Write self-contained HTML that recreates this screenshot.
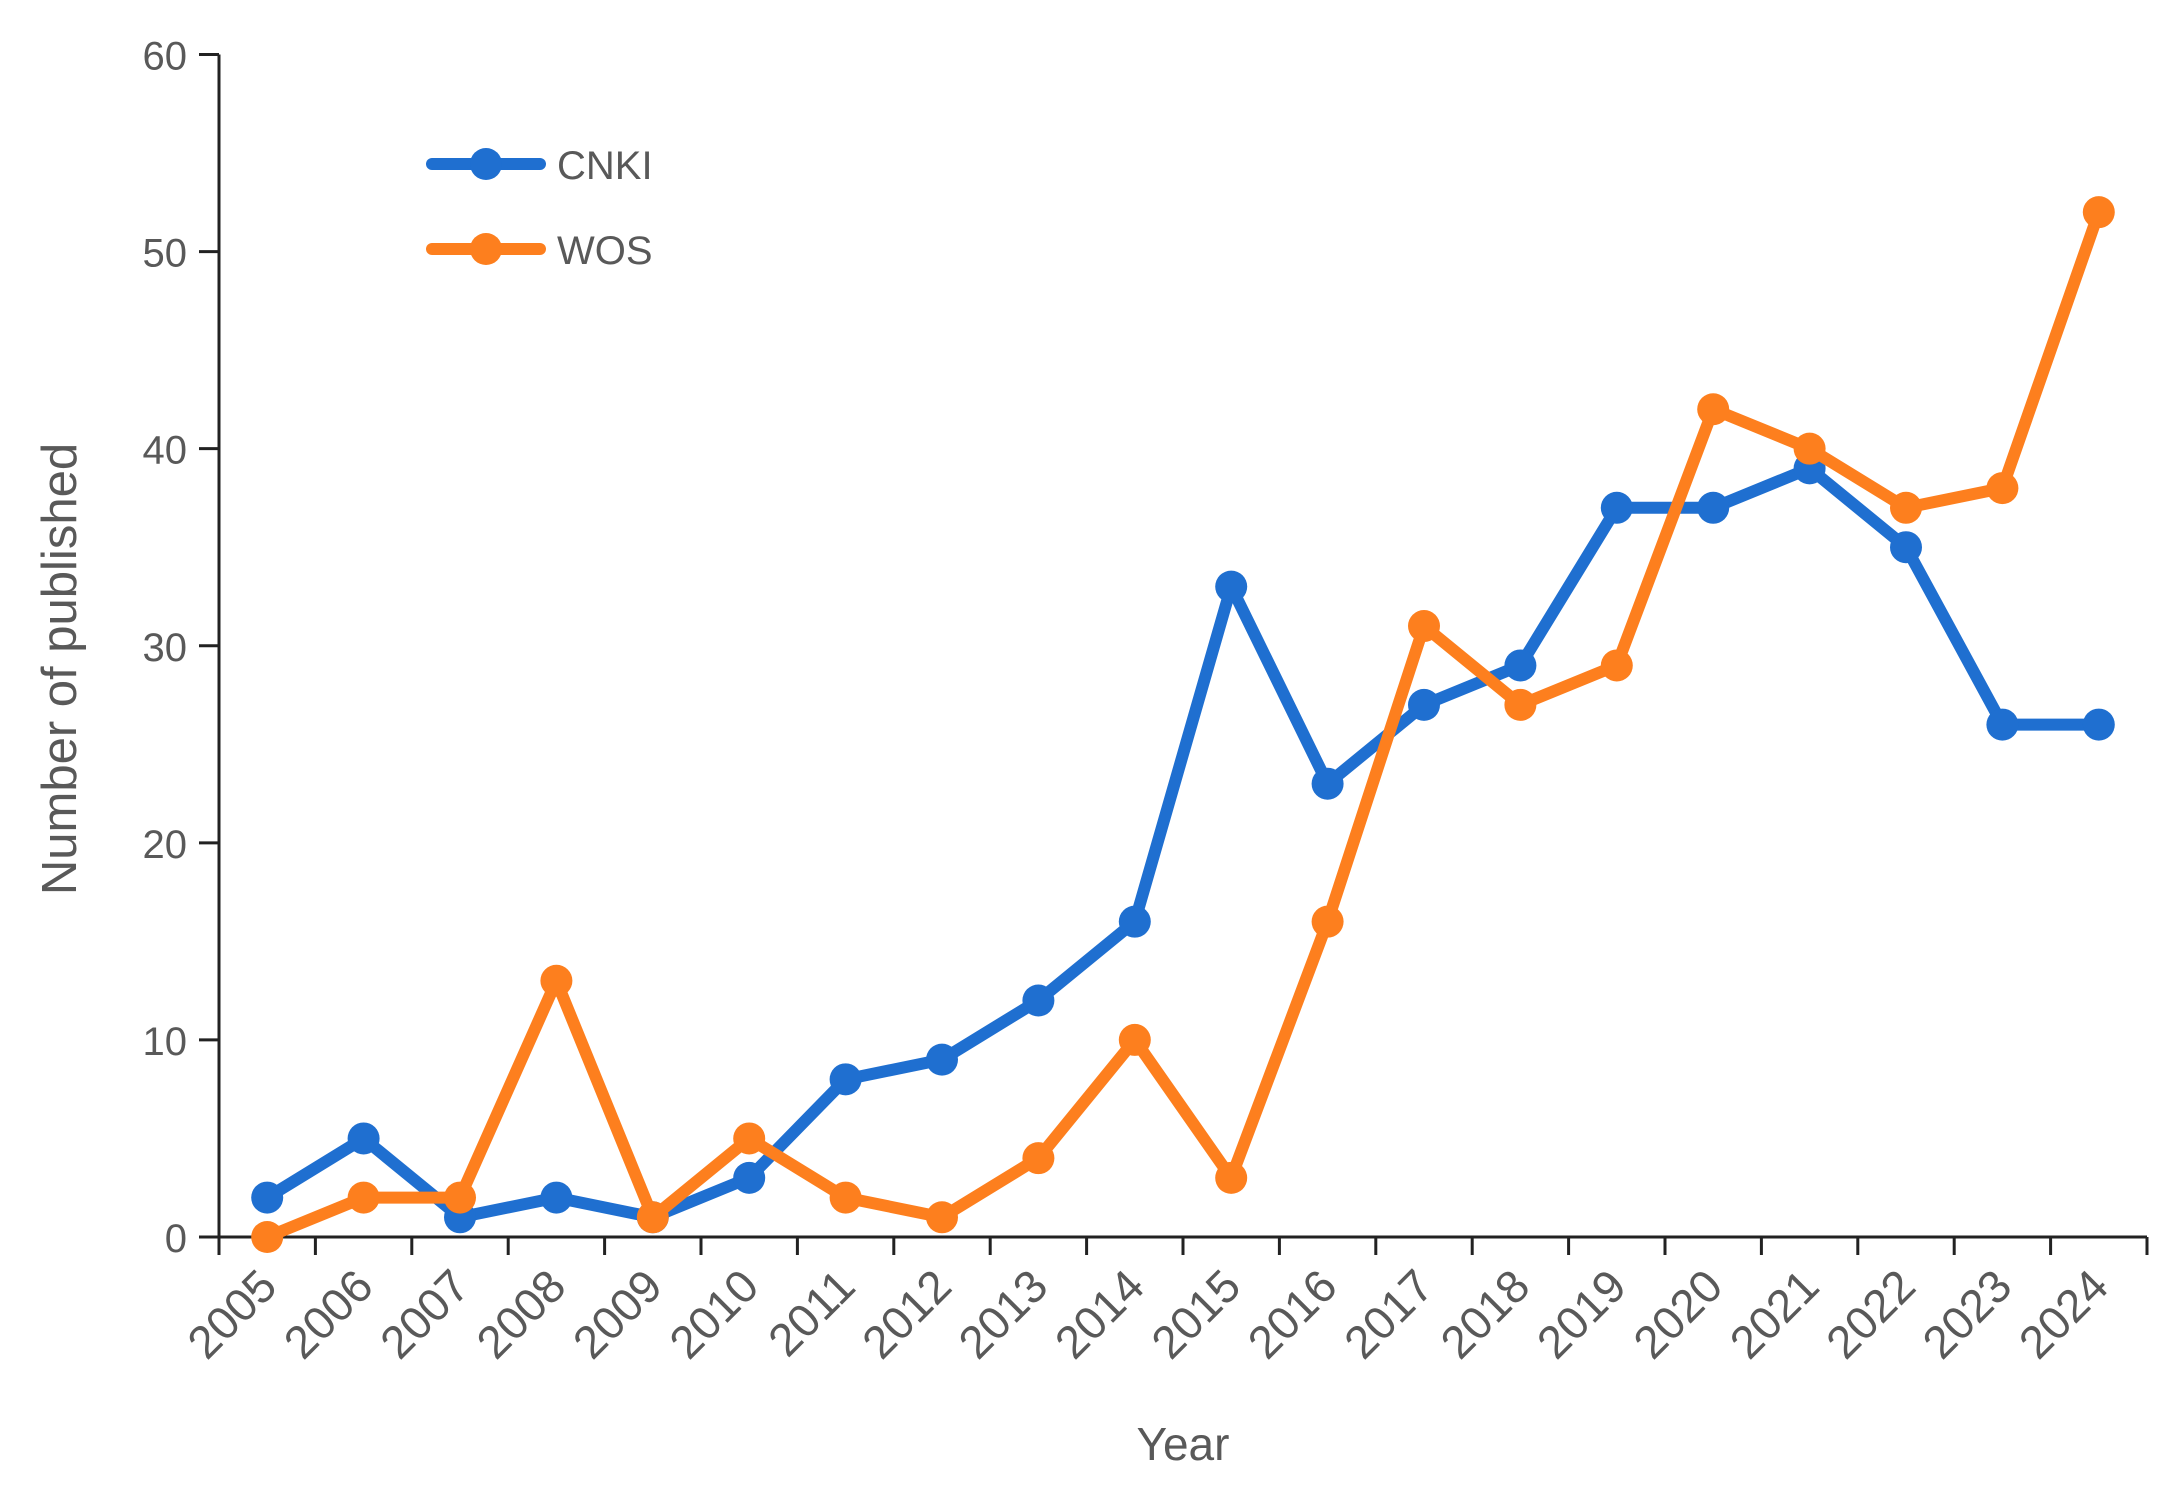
<!DOCTYPE html>
<html><head><meta charset="utf-8"><style>
html,body{margin:0;padding:0;background:#fff;}
svg{display:block;font-family:"Liberation Sans",sans-serif;}
</style></head><body>
<svg id="chart" width="2182" height="1495" viewBox="0 0 2182 1495" xmlns="http://www.w3.org/2000/svg">
<g id="axes"></g>
<g id="series"></g>
<text x="1183" y="1460" font-size="46" fill="#595959" text-anchor="middle">Year</text>
<text transform="translate(76,669) rotate(-90)" font-size="49" fill="#595959" text-anchor="middle">Number of published</text>
<g>
 <g>
  <line x1="432" y1="164" x2="540" y2="164" stroke="#1f6fd0" stroke-width="12" stroke-linecap="round"/>
  <circle cx="486" cy="164" r="16" fill="#1f6fd0"/>
  <text x="557" y="179" font-size="40" fill="#595959">CNKI</text>
 </g>
 <g>
  <line x1="432" y1="249" x2="540" y2="249" stroke="#fd7f1e" stroke-width="12" stroke-linecap="round"/>
  <circle cx="486" cy="249" r="16" fill="#fd7f1e"/>
  <text x="557" y="264" font-size="40" fill="#595959">WOS</text>
 </g>
</g>
</svg>
<script>
const years = ["2005","2006","2007","2008","2009","2010","2011","2012","2013","2014","2015","2016","2017","2018","2019","2020","2021","2022","2023","2024"];
const cnki = [2,5,1,2,1,3,8,9,12,16,33,23,27,29,37,37,39,35,26,26];
const wos = [0,2,2,13,1,5,2,1,4,10,3,16,31,27,29,42,40,37,38,52];
const yTicks = [0,10,20,30,40,50,60];

const NS = "http://www.w3.org/2000/svg";
const X0 = 219, X1 = 2147, Y0 = 1237, Y60 = 54.5;
const bw = (X1 - X0) / years.length;
function xPos(i){ return X0 + bw * (i + 0.5); }
function yPos(v){ return Y0 - (Y0 - Y60) * v / 60; }
function mk(tag, attrs, parent){ const e = document.createElementNS(NS, tag); for (const k in attrs) e.setAttribute(k, attrs[k]); parent.appendChild(e); return e; }

const axes = document.getElementById('axes');
const yAxis = mk('line', {x1:X0, y1:yPos(60), x2:X0, y2:Y0, stroke:'#222', 'stroke-width':3}, axes);


const xAxis = mk('line', {x1:X0 - 20, y1:Y0, x2:X1, y2:Y0, stroke:'#222', 'stroke-width':3}, axes);


yTicks.forEach(v => {
  const y = yPos(v);
  const t = mk('line', {x1:X0 - 20, y1:y, x2:X0, y2:y, stroke:'#222', 'stroke-width':3}, axes);
  
  
  const l = mk('text', {x:X0 - 32, y:y + 15, 'font-size':40, fill:'#595959', 'text-anchor':'end'}, axes);
  l.textContent = v;
  
  
});
for (let i = 0; i <= years.length; i++) {
  const x = X0 + bw * i;
  const t = mk('line', {x1:x, y1:Y0, x2:x, y2:Y0 + 18, stroke:'#222', 'stroke-width':3}, axes);
  
  
}
years.forEach((yr, i) => {
  const x = xPos(i) + 12, y = Y0 + 52;
  const l = mk('text', {x:x, y:y, 'font-size':46, fill:'#595959', 'text-anchor':'end', transform:`rotate(-45 ${x} ${y})`}, axes);
  l.textContent = yr;
  
  
});

const sg = document.getElementById('series');
function drawSeries(vals, color, name){
  const g = mk('g', {}, sg);
  
  
  const pts = vals.map((v, i) => xPos(i) + ',' + yPos(v)).join(' ');
  const pl = mk('polyline', {points:pts, fill:'none', stroke:color, 'stroke-width':12, 'stroke-linejoin':'round', 'stroke-linecap':'round'}, g);
  
  
  vals.forEach((v, i) => {
    const c = mk('circle', {cx:xPos(i), cy:yPos(v), r:16, fill:color}, g);
    
    
  });
}
drawSeries(cnki, '#1f6fd0', 'cnki');
drawSeries(wos, '#fd7f1e', 'wos');
</script>
</body></html>
